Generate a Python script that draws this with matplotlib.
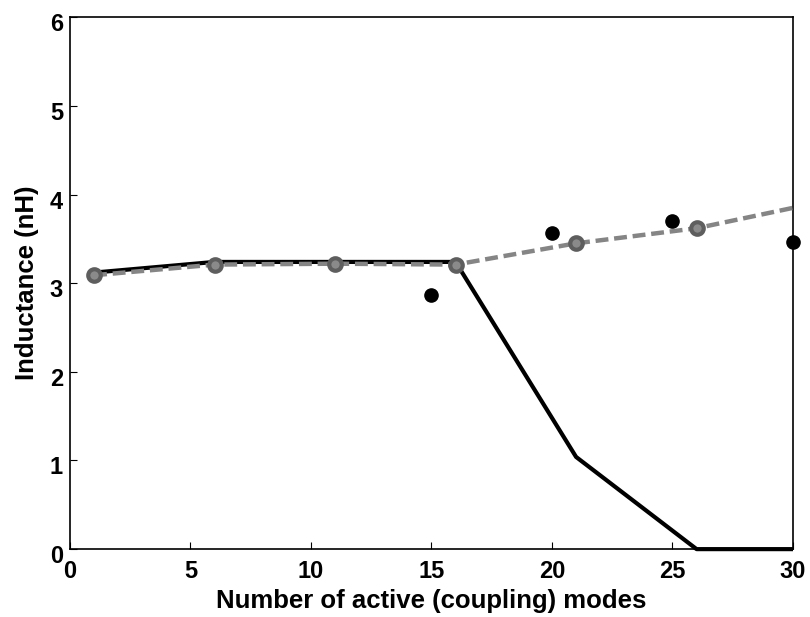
import matplotlib
matplotlib.use("Agg")
import matplotlib.pyplot as plt
from matplotlib.transforms import ScaledTranslation

solid_x = [1, 6, 11, 16, 21, 26, 30]
solid_y = [3.12, 3.24, 3.24, 3.24, 1.04, 0.0, 0.0]

dash_x = [1, 6, 11, 16, 21, 26, 30]
dash_y = [3.09, 3.21, 3.22, 3.21, 3.45, 3.62, 3.85]

dot_x = [15, 20, 25, 30]
dot_y = [2.87, 3.57, 3.70, 3.47]

xticks = [0, 5, 10, 15, 20, 25, 30]
yticks = [0, 1, 2, 3, 4, 5, 6]

plt.rcParams['font.family'] = ['Liberation Sans', 'DejaVu Sans']

fig = plt.figure(figsize=(8.1, 6.17), dpi=100)
ax = fig.add_axes([0.0864, 0.110, 0.8926, 0.862])

ax.plot(solid_x, solid_y, color='black', lw=3.0, solid_capstyle='butt', zorder=2, clip_on=False)
ax.plot(dash_x, dash_y, color='#858585', lw=3.2, dashes=(2.9, 1.3), zorder=3)
ax.plot(dash_x[:-1], dash_y[:-1], ls='none', marker='o', ms=9, mfc='#8a8a8a',
        mec='#5e5e5e', mew=3, zorder=4)
ax.plot(dot_x, dot_y, ls='none', marker='o', ms=9.5, color='black', zorder=5, clip_on=False)

ax.set_xlim(0, 30)
ax.set_ylim(0, 6)
ax.set_xticks(xticks)
ax.set_yticks(yticks)
ax.tick_params(direction='in', length=5, width=0.8, top=False, right=False,
               labelsize=17)
ax.tick_params(axis='x', pad=8)
ax.tick_params(axis='y', pad=5)
off = ScaledTranslation(0, -5 / 100, fig.dpi_scale_trans)
for lab in ax.get_xticklabels() + ax.get_yticklabels():
    lab.set_fontweight('bold')
for lab in ax.get_yticklabels():
    lab.set_transform(lab.get_transform() + off)
for s in ax.spines.values():
    s.set_linewidth(1.2)

ax.set_xlabel('Number of active (coupling) modes', fontsize=18.5, fontweight='bold', labelpad=4)
ax.set_ylabel('Inductance (nH)', fontsize=18.5, fontweight='bold', labelpad=8)

fig.savefig('out.png', dpi=100)
